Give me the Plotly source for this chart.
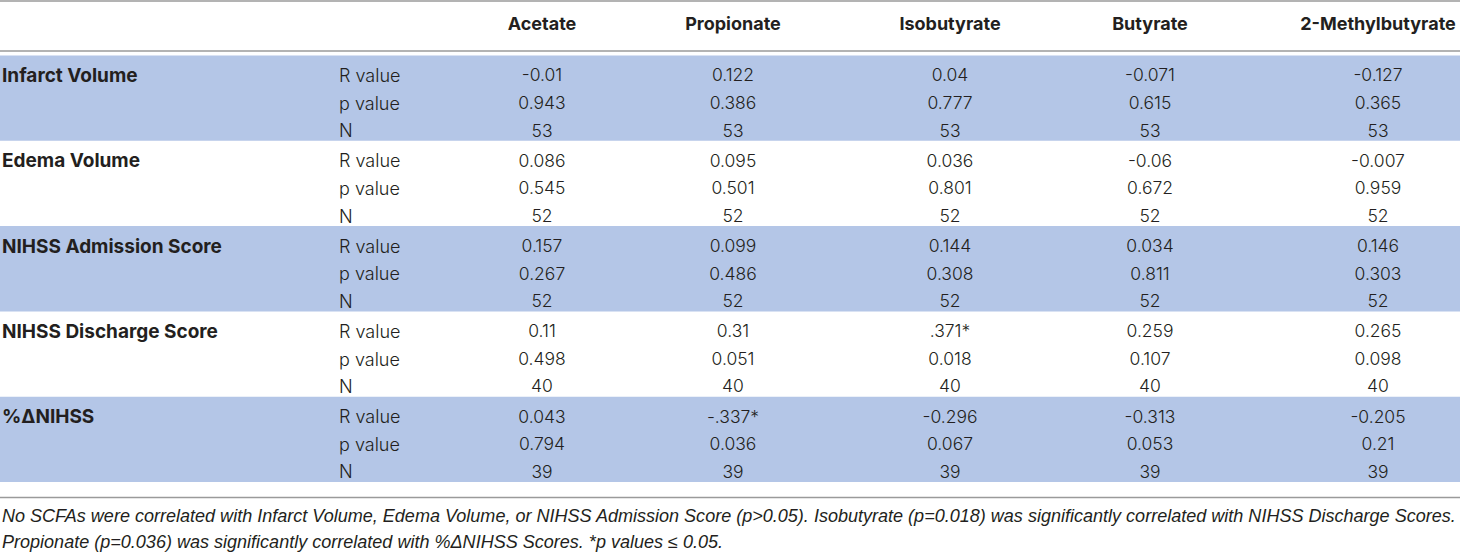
import plotly.graph_objects as go

# ---------------- data ----------------
acids = ["Acetate", "Propionate", "Isobutyrate", "Butyrate", "2-Methylbutyrate"]
metrics = ["Infarct Volume", "Edema Volume", "NIHSS Admission Score",
           "NIHSS Discharge Score", "%ΔNIHSS"]
stat_labels = ["R value", "p value", "N"]

r_values = [
    ["-0.01", "0.122", "0.04", "-0.071", "-0.127"],
    ["0.086", "0.095", "0.036", "-0.06", "-0.007"],
    ["0.157", "0.099", "0.144", "0.034", "0.146"],
    ["0.11", "0.31", ".371*", "0.259", "0.265"],
    ["0.043", "-.337*", "-0.296", "-0.313", "-0.205"],
]
p_values = [
    ["0.943", "0.386", "0.777", "0.615", "0.365"],
    ["0.545", "0.501", "0.801", "0.672", "0.959"],
    ["0.267", "0.486", "0.308", "0.811", "0.303"],
    ["0.498", "0.051", "0.018", "0.107", "0.098"],
    ["0.794", "0.036", "0.067", "0.053", "0.21"],
]
n_values = [53, 52, 52, 40, 39]

footnote_lines = [
    "No SCFAs were correlated with Infarct Volume, Edema Volume, or NIHSS Admission Score (p>0.05). "
    "Isobutyrate (p=0.018) was significantly correlated with NIHSS Discharge Scores.",
    "Propionate (p=0.036) was significantly correlated with %ΔNIHSS Scores. *p values ≤ 0.05.",
]

# ---------------- layout constants ----------------
W, H = 1460, 555
COL_X = [542, 733, 950, 1150, 1378]
STAT_X = 337
LABEL_X = 0
HEADER_Y = 25
TOP_RULE_Y = 1
HEAD_RULE_Y = 51
GROUP_TOP0 = 55.5
GROUP_H = 85.3
SUB_OFF = 21.5
SUB_H = 27.6
BOTTOM_RULE_Y = 497.5
FOOT_Y = [516, 542]
LABEL_DY = -1.5

BAND = "#B4C6E7"
TEXT = "#231F20"
RULE = "#9A9A9A"
BODY_FONT = "Inter, Liberation Sans, Arial, sans-serif"
FOOT_FONT = "Liberation Sans, Arial, sans-serif"

fig = go.Figure()
shapes = []
annotations = []

# bands for alternating groups
for gi in range(len(metrics)):
    if gi % 2 == 0:
        y0 = GROUP_TOP0 + gi * GROUP_H
        shapes.append(dict(type="rect", xref="x", yref="y", x0=0, x1=W,
                           y0=y0, y1=y0 + GROUP_H, fillcolor=BAND,
                           line=dict(width=0), layer="below"))

# rules
for yy in (TOP_RULE_Y, HEAD_RULE_Y, BOTTOM_RULE_Y):
    shapes.append(dict(type="line", xref="x", yref="y", x0=0, x1=W, y0=yy, y1=yy,
                       line=dict(color=RULE, width=1.6)))

# header
fig.add_trace(go.Scatter(
    x=COL_X, y=[HEADER_Y] * len(acids), mode="text", text=acids,
    textposition="middle center",
    textfont=dict(family=BODY_FONT, size=18, color=TEXT, weight="bold"),
    hoverinfo="skip", showlegend=False))

# body
for gi, metric in enumerate(metrics):
    rows = [r_values[gi], p_values[gi], [str(n_values[gi])] * len(acids)]
    ys = [GROUP_TOP0 + gi * GROUP_H + SUB_OFF + k * SUB_H for k in range(3)]
    annotations.append(dict(x=LABEL_X, y=ys[0] + LABEL_DY, xref="x", yref="y", text=metric,
                            showarrow=False, xanchor="left", yanchor="middle",
                            font=dict(family=BODY_FONT, size=19, color=TEXT, weight="bold")))
    for k, lab in enumerate(stat_labels):
        annotations.append(dict(x=STAT_X, y=ys[k] + LABEL_DY, xref="x", yref="y", text=lab,
                                showarrow=False, xanchor="left", yanchor="middle",
                                font=dict(family=BODY_FONT, size=18, color=TEXT, weight=300)))
        fig.add_trace(go.Scatter(
            x=COL_X, y=[ys[k]] * len(acids), mode="text", text=rows[k],
            textposition="middle center",
            textfont=dict(family=BODY_FONT, size=17.5, color=TEXT, weight=300),
            hoverinfo="skip", showlegend=False))

# footnote
for line, yy in zip(footnote_lines, FOOT_Y):
    annotations.append(dict(x=LABEL_X, y=yy, xref="x", yref="y", text=line,
                            showarrow=False, xanchor="left", yanchor="middle",
                            font=dict(family=FOOT_FONT, size=18.05, color=TEXT, style="italic")))

fig.update_layout(
    width=W, height=H, margin=dict(l=0, r=0, t=0, b=0),
    paper_bgcolor="white", plot_bgcolor="white",
    shapes=shapes, annotations=annotations,
    xaxis=dict(range=[0, W], visible=False, fixedrange=True),
    yaxis=dict(range=[H, 0], visible=False, fixedrange=True),
    showlegend=False,
)

fig.write_html(
    "out.html",
    config={"displayModeBar": False},
    post_script="document.body.style.margin='0px';document.body.style.overflow='hidden';",
)
